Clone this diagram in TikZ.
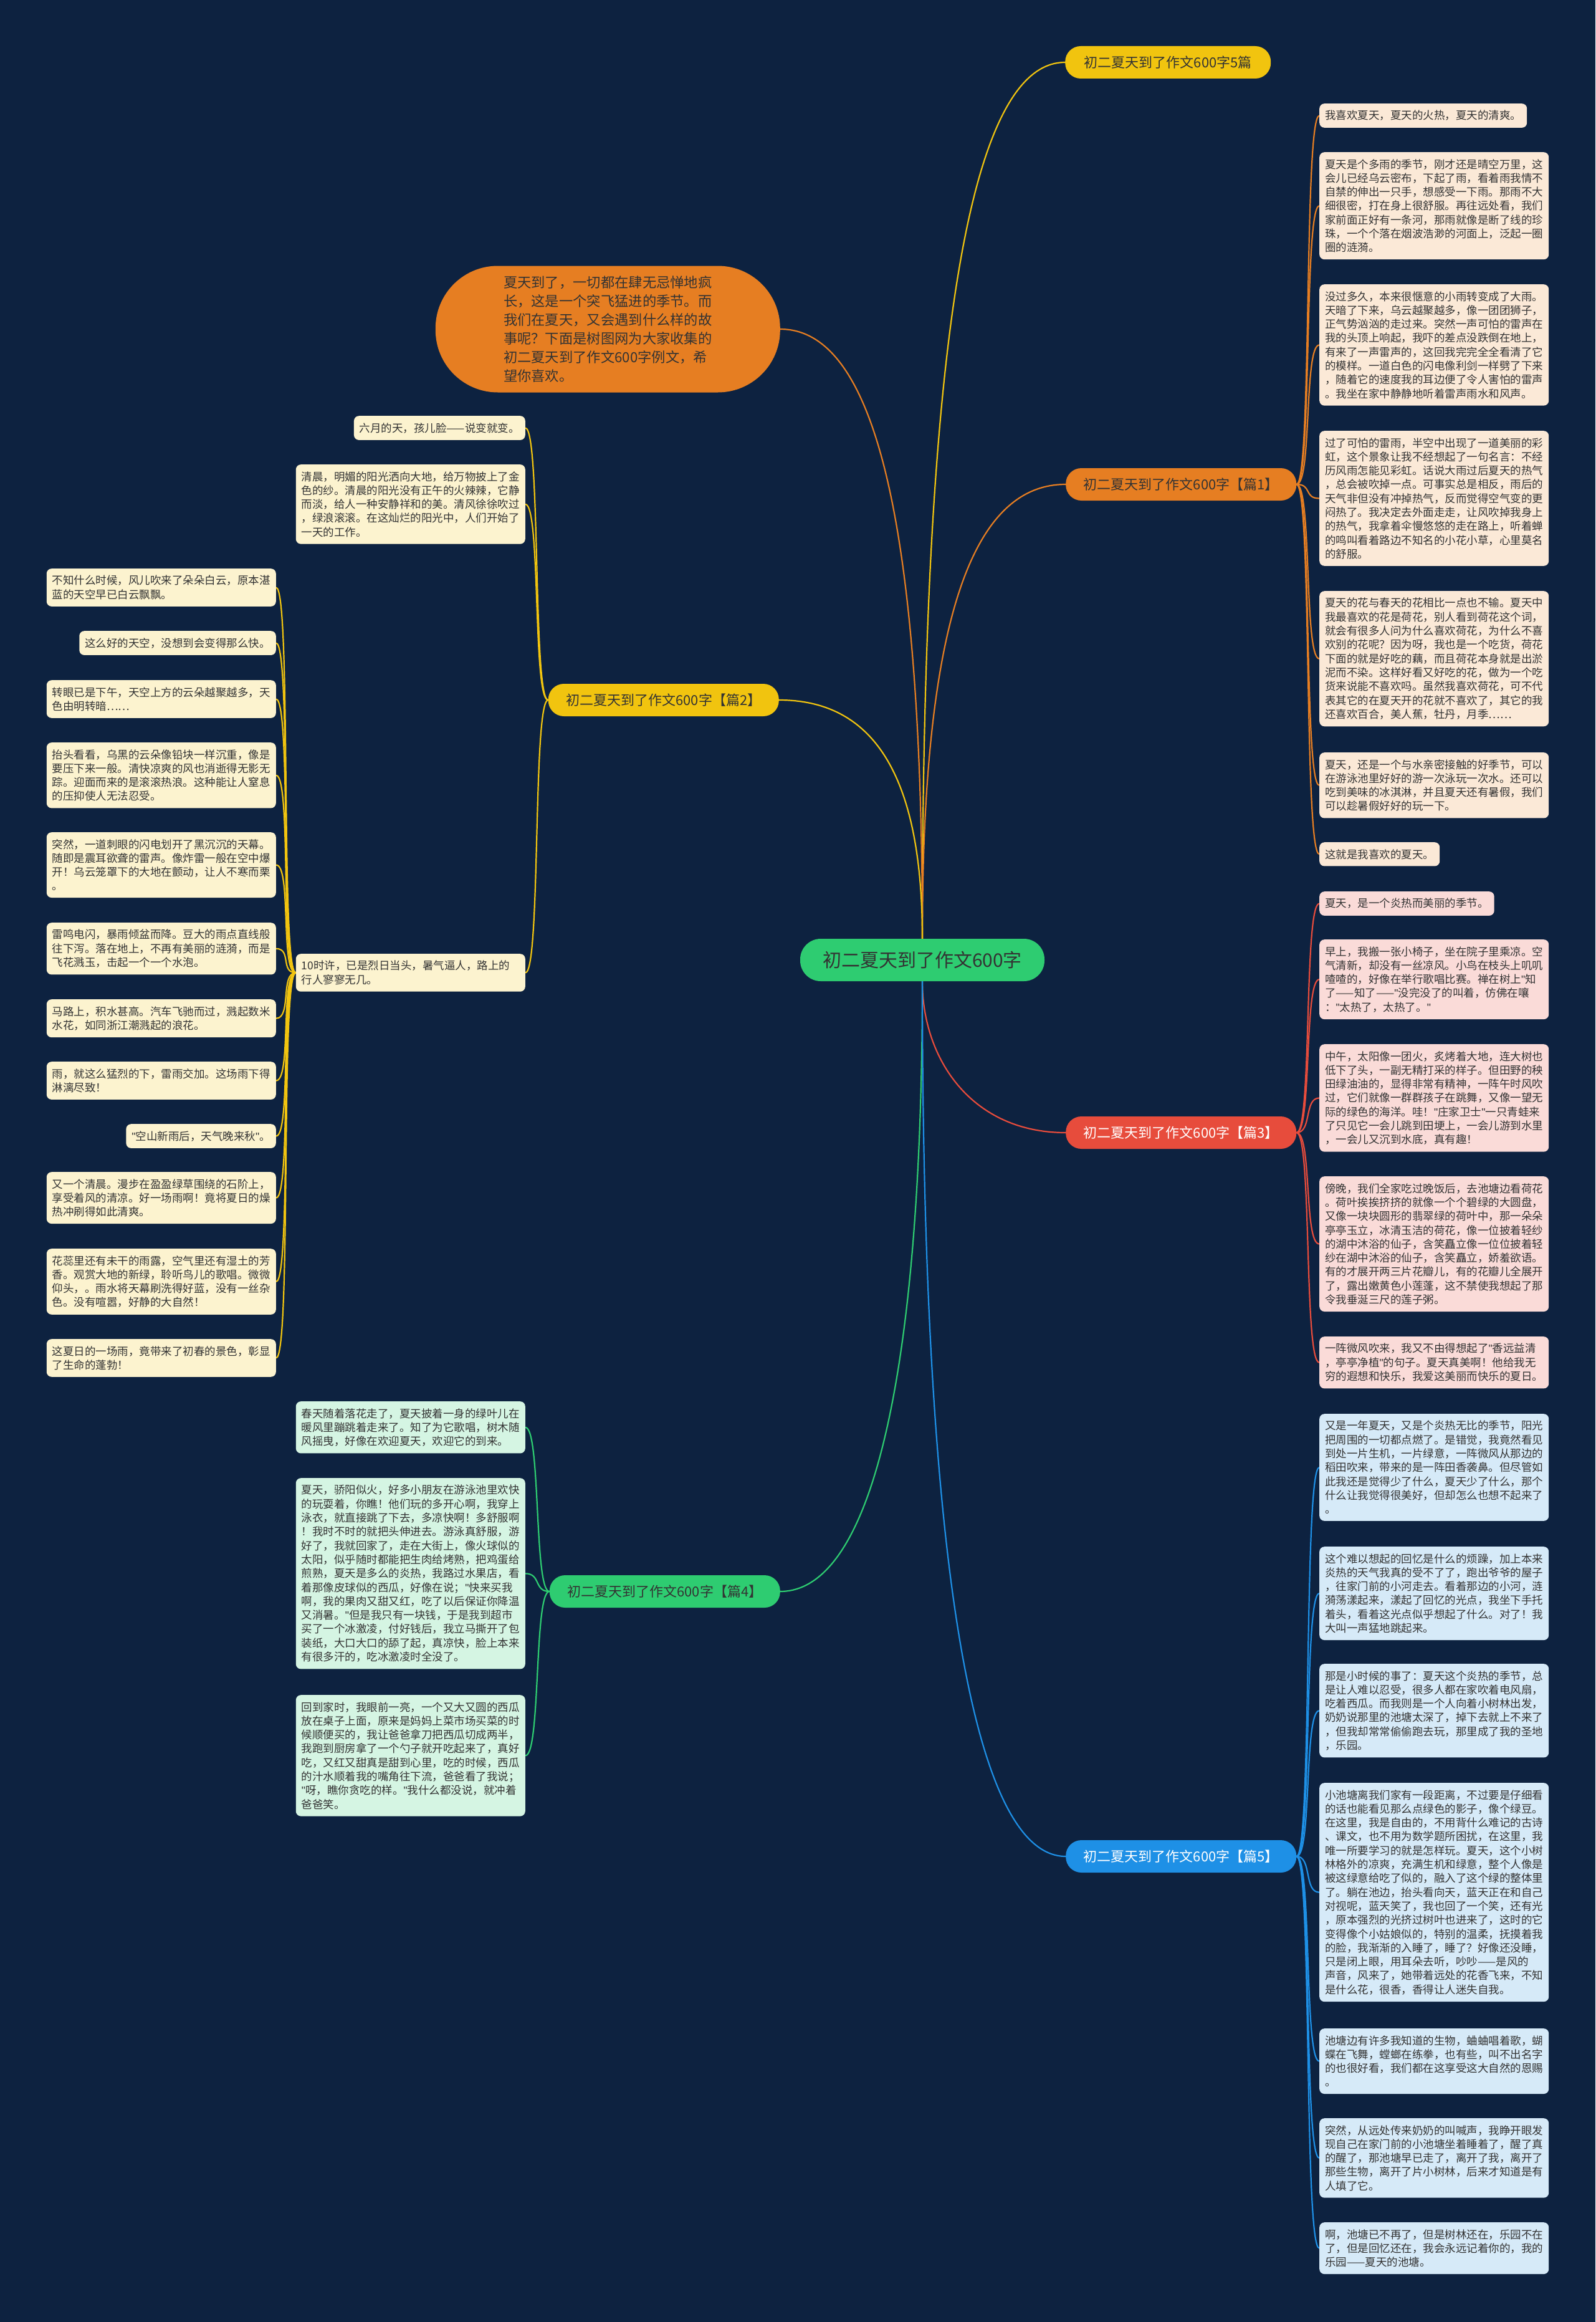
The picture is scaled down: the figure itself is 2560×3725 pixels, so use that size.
\documentclass[tikz,border=0pt]{standalone}
\usepackage{fontspec}
\setmainfont{Noto Sans CJK SC}
\newfontfamily\quotefont{Liberation Sans}
\newcommand\dq{{\quotefont"}}
\usepackage{xcolor}
\usepackage{tikz}
\usetikzlibrary{backgrounds}

\definecolor{navy}{HTML}{0D2240}
\definecolor{tyellow}{HTML}{F1C40F}
\definecolor{torange}{HTML}{E67E22}
\definecolor{tred}{HTML}{E74C3C}
\definecolor{tgreen}{HTML}{2ECC71}
\definecolor{tblue}{HTML}{1E90E6}
\definecolor{inkgray}{HTML}{333333}
\definecolor{peachbg}{HTML}{FBE9D7}
\definecolor{rosebg}{HTML}{FADBD8}
\definecolor{creambg}{HTML}{FCF3CF}
\definecolor{mintbg}{HTML}{D5F5E3}
\definecolor{skybg}{HTML}{D6EAF8}

\begin{document}
\begin{tikzpicture}[x=1pt, y=-1pt,
  leaf/.style={rounded corners=8pt, align=left, inner xsep=9pt, inner ysep=11pt,
    text=inkgray, font={\fontsize{17.5}{22.3}\selectfont}},
  wide/.style={text width=350pt},
  branch/.style={rectangle, rounded corners=25pt, minimum height=52pt, minimum width=370pt,
    inner xsep=10pt, font={\fontsize{22}{26}\selectfont}},
  link/.style={line width=2.2pt}]
  \useasboundingbox (0,0) rectangle (2560,3725);

  % Root and intro
  \node[rectangle, rounded corners=33pt, fill=tgreen, text=inkgray, minimum width=392pt, minimum height=68pt,
    font={\fontsize{30}{34}\selectfont}] (root) at (1480,1540) {初二夏天到了作文600字};
  \node[rectangle, rounded corners=100pt, fill=torange, text=inkgray, minimum width=553pt, minimum height=203pt,
    align=left, font={\fontsize{22.3}{30}\selectfont}, anchor=east] (intro) at (1252,528)
    {夏天到了，一切都在肆无忌惮地疯\\长，这是一个突飞猛进的季节。而\\我们在夏天，又会遇到什么样的故\\事呢？下面是树图网为大家收集的\\初二夏天到了作文600字例文，希\\望你喜欢。};

  % Branches
  \node[branch, fill=tyellow, text=inkgray, minimum width=330pt, anchor=west] (b0) at (1709,100) {初二夏天到了作文600字5篇};
  \node[branch, fill=torange, text=inkgray, anchor=west] (b1) at (1710,777) {初二夏天到了作文600字【篇1】};
  \node[branch, fill=tyellow, text=inkgray, anchor=east] (b2) at (1250,1123) {初二夏天到了作文600字【篇2】};
  \node[branch, fill=tred, text=white, anchor=west] (b3) at (1710,1817) {初二夏天到了作文600字【篇3】};
  \node[branch, fill=tgreen, text=inkgray, anchor=east] (b4) at (1252,2553) {初二夏天到了作文600字【篇4】};
  \node[branch, fill=tblue, text=white, anchor=west] (b5) at (1710,2978) {初二夏天到了作文600字【篇5】};

  % Part 1
  \node[leaf, fill=peachbg, anchor=north west] (p1a) at (2117,166) {我喜欢夏天，夏天的火热，夏天的清爽。};
  \node[leaf, wide, fill=peachbg, anchor=north west] (p1b) at (2117,244)
    {夏天是个多雨的季节，刚才还是晴空万里，这\\会儿已经乌云密布，下起了雨，看着雨我情不\\自禁的伸出一只手，想感受一下雨。那雨不大\\细很密，打在身上很舒服。再往远处看，我们\\家前面正好有一条河，那雨就像是断了线的珍\\珠，一个个落在烟波浩渺的河面上，泛起一圈\\圈的涟漪。};
  \node[leaf, wide, fill=peachbg, anchor=north west] (p1c) at (2117,456)
    {没过多久，本来很惬意的小雨转变成了大雨。\\天暗了下来，乌云越聚越多，像一团团狮子，\\正气势汹汹的走过来。突然一声可怕的雷声在\\我的头顶上响起，我吓的差点没跌倒在地上，\\有来了一声雷声的，这回我完完全全看清了它\\的模样。一道白色的闪电像利剑一样劈了下来\\，随着它的速度我的耳边便了令人害怕的雷声\\。我坐在家中静静地听着雷声雨水和风声。};
  \node[leaf, wide, fill=peachbg, anchor=north west] (p1d) at (2117,691)
    {过了可怕的雷雨，半空中出现了一道美丽的彩\\虹，这个景象让我不经想起了一句名言：不经\\历风雨怎能见彩虹。话说大雨过后夏天的热气\\，总会被吹掉一点。可事实总是相反，雨后的\\天气非但没有冲掉热气，反而觉得空气变的更\\闷热了。我决定去外面走走，让风吹掉我身上\\的热气，我拿着伞慢悠悠的走在路上，听着蝉\\的鸣叫看着路边不知名的小花小草，心里莫名\\的舒服。};
  \node[leaf, wide, fill=peachbg, anchor=north west] (p1e) at (2117,948)
    {夏天的花与春天的花相比一点也不输。夏天中\\我最喜欢的花是荷花，别人看到荷花这个词，\\就会有很多人问为什么喜欢荷花，为什么不喜\\欢别的花呢？因为呀，我也是一个吃货，荷花\\下面的就是好吃的藕，而且荷花本身就是出淤\\泥而不染。这样好看又好吃的花，做为一个吃\\货来说能不喜欢吗。虽然我喜欢荷花，可不代\\表其它的在夏天开的花就不喜欢了，其它的我\\还喜欢百合，美人蕉，牡丹，月季……};
  \node[leaf, wide, fill=peachbg, anchor=north west] (p1f) at (2117,1207)
    {夏天，还是一个与水亲密接触的好季节，可以\\在游泳池里好好的游一次泳玩一次水。还可以\\吃到美味的冰淇淋，并且夏天还有暑假，我们\\可以趁暑假好好的玩一下。};
  \node[leaf, fill=peachbg, anchor=north west] (p1g) at (2117,1351) {这就是我喜欢的夏天。};

  % Part 2
  \node[leaf, fill=creambg, anchor=north east] (p2a) at (843,667) {六月的天，孩儿脸——说变就变。};
  \node[leaf, wide, fill=creambg, anchor=north east] (p2b) at (843,745)
    {清晨，明媚的阳光洒向大地，给万物披上了金\\色的纱。清晨的阳光没有正午的火辣辣，它静\\而淡，给人一种安静祥和的美。清风徐徐吹过\\，绿浪滚滚。在这灿烂的阳光中，人们开始了\\一天的工作。};
  \node[leaf, wide, fill=creambg, anchor=north east] (p2c) at (843,1530)
    {10时许，已是烈日当头，暑气逼人，路上的\\行人寥寥无几。};
  \node[leaf, wide, fill=creambg, anchor=north east] (q1) at (443,912)
    {不知什么时候，风儿吹来了朵朵白云，原本湛\\蓝的天空早已白云飘飘。};
  \node[leaf, fill=creambg, anchor=north east] (q2) at (443,1012) {这么好的天空，没想到会变得那么快。};
  \node[leaf, wide, fill=creambg, anchor=north east] (q3) at (443,1091)
    {转眼已是下午，天空上方的云朵越聚越多，天\\色由明转暗……};
  \node[leaf, wide, fill=creambg, anchor=north east] (q4) at (443,1191)
    {抬头看看，乌黑的云朵像铅块一样沉重，像是\\要压下来一般。清快凉爽的风也消逝得无影无\\踪。迎面而来的是滚滚热浪。这种能让人窒息\\的压抑使人无法忍受。};
  \node[leaf, wide, fill=creambg, anchor=north east] (q5) at (443,1335)
    {突然，一道刺眼的闪电划开了黑沉沉的天幕。\\随即是震耳欲聋的雷声。像炸雷一般在空中爆\\开！乌云笼罩下的大地在颤动，让人不寒而栗\\。};
  \node[leaf, wide, fill=creambg, anchor=north east] (q6) at (443,1480)
    {雷鸣电闪，暴雨倾盆而降。豆大的雨点直线般\\往下泻。落在地上，不再有美丽的涟漪，而是\\飞花溅玉，击起一个一个水泡。};
  \node[leaf, wide, fill=creambg, anchor=north east] (q7) at (443,1603)
    {马路上，积水甚高。汽车飞驰而过，溅起数米\\水花，如同浙江潮溅起的浪花。};
  \node[leaf, wide, fill=creambg, anchor=north east] (q8) at (443,1703)
    {雨，就这么猛烈的下，雷雨交加。这场雨下得\\淋漓尽致！};
  \node[leaf, fill=creambg, anchor=north east] (q9) at (443,1803) {\dq 空山新雨后，天气晚来秋\dq 。};
  \node[leaf, wide, fill=creambg, anchor=north east] (q10) at (443,1880)
    {又一个清晨。漫步在盈盈绿草围绕的石阶上，\\享受着风的清凉。好一场雨啊！竟将夏日的燥\\热冲刷得如此清爽。};
  \node[leaf, wide, fill=creambg, anchor=north east] (q11) at (443,2003)
    {花蕊里还有未干的雨露，空气里还有湿土的芳\\香。观赏大地的新绿，聆听鸟儿的歌唱。微微\\仰头，。雨水将天幕刷洗得好蓝，没有一丝杂\\色。没有喧嚣，好静的大自然！};
  \node[leaf, wide, fill=creambg, anchor=north east] (q12) at (443,2148)
    {这夏日的一场雨，竟带来了初春的景色，彰显\\了生命的蓬勃！};

  % Part 3
  \node[leaf, fill=rosebg, anchor=north west] (p3a) at (2117,1430) {夏天，是一个炎热而美丽的季节。};
  \node[leaf, wide, fill=rosebg, anchor=north west] (p3b) at (2117,1507)
    {早上，我搬一张小椅子，坐在院子里乘凉。空\\气清新，却没有一丝凉风。小鸟在枝头上叽叽\\喳喳的，好像在举行歌唱比赛。禅在树上\dq 知\\了——知了——\dq 没完没了的叫着，仿佛在嚷\\：\dq 太热了，太热了。\dq};
  \node[leaf, wide, fill=rosebg, anchor=north west] (p3c) at (2117,1675)
    {中午，太阳像一团火，炙烤着大地，连大树也\\低下了头，一副无精打采的样子。但田野的秧\\田绿油油的，显得非常有精神，一阵午时风吹\\过，它们就像一群群孩子在跳舞，又像一望无\\际的绿色的海洋。哇！\dq 庄家卫士\dq 一只青蛙来\\了只见它一会儿跳到田埂上，一会儿游到水里\\，一会儿又沉到水底，真有趣！};
  \node[leaf, wide, fill=rosebg, anchor=north west] (p3d) at (2117,1887)
    {傍晚，我们全家吃过晚饭后，去池塘边看荷花\\。荷叶挨挨挤挤的就像一个个碧绿的大圆盘，\\又像一块块圆形的翡翠绿的荷叶中，那一朵朵\\亭亭玉立，冰清玉洁的荷花，像一位披着轻纱\\的湖中沐浴的仙子，含笑矗立像一位位披着轻\\纱在湖中沐浴的仙子，含笑矗立，娇羞欲语。\\有的才展开两三片花瓣儿，有的花瓣儿全展开\\了，露出嫩黄色小莲蓬，这不禁使我想起了那\\令我垂涎三尺的莲子粥。};
  \node[leaf, wide, fill=rosebg, anchor=north west] (p3e) at (2117,2144)
    {一阵微风吹来，我又不由得想起了\dq 香远益清\\，亭亭净植\dq 的句子。夏天真美啊！他给我无\\穷的遐想和快乐，我爱这美丽而快乐的夏日。};

  % Part 4
  \node[leaf, wide, fill=mintbg, anchor=north east] (p4a) at (843,2248)
    {春天随着落花走了，夏天披着一身的绿叶儿在\\暖风里蹦跳着走来了。知了为它歌唱，树木随\\风摇曳，好像在欢迎夏天，欢迎它的到来。};
  \node[leaf, wide, fill=mintbg, anchor=north east] (p4b) at (843,2371)
    {夏天，骄阳似火，好多小朋友在游泳池里欢快\\的玩耍着，你瞧！他们玩的多开心啊，我穿上\\泳衣，就直接跳了下去，多凉快啊！多舒服啊\\！我时不时的就把头伸进去。游泳真舒服，游\\好了，我就回家了，走在大街上，像火球似的\\太阳，似乎随时都能把生肉给烤熟，把鸡蛋给\\煎熟，夏天是多么的炎热，我路过水果店，看\\着那像皮球似的西瓜，好像在说；\dq 快来买我\\啊，我的果肉又甜又红，吃了以后保证你降温\\又消暑。\dq 但是我只有一块钱，于是我到超市\\买了一个冰激凌，付好钱后，我立马撕开了包\\装纸，大口大口的舔了起，真凉快，脸上本来\\有很多汗的，吃冰激凌时全没了。};
  \node[leaf, wide, fill=mintbg, anchor=north east] (p4c) at (843,2719)
    {回到家时，我眼前一亮，一个又大又圆的西瓜\\放在桌子上面，原来是妈妈上菜市场买菜的时\\候顺便买的，我让爸爸拿刀把西瓜切成两半，\\我跑到厨房拿了一个勺子就开吃起来了，真好\\吃，又红又甜真是甜到心里，吃的时候，西瓜\\的汁水顺着我的嘴角往下流，爸爸看了我说；\\\dq 呀，瞧你贪吃的样。\dq 我什么都没说，就冲着\\爸爸笑。};

  % Part 5
  \node[leaf, wide, fill=skybg, anchor=north west] (p5a) at (2117,2268)
    {又是一年夏天，又是个炎热无比的季节，阳光\\把周围的一切都点燃了。是错觉，我竟然看见\\到处一片生机，一片绿意，一阵微风从那边的\\稻田吹来，带来的是一阵田香袭鼻。但尽管如\\此我还是觉得少了什么，夏天少了什么，那个\\什么让我觉得很美好，但却怎么也想不起来了\\。};
  \node[leaf, wide, fill=skybg, anchor=north west] (p5b) at (2117,2481)
    {这个难以想起的回忆是什么的烦躁，加上本来\\炎热的天气我真的受不了了，跑出爷爷的屋子\\，往家门前的小河走去。看着那边的小河，涟\\漪荡漾起来，漾起了回忆的光点，我坐下手托\\着头，看着这光点似乎想起了什么。对了！我\\大叫一声猛地跳起来。};
  \node[leaf, wide, fill=skybg, anchor=north west] (p5c) at (2117,2669)
    {那是小时候的事了：夏天这个炎热的季节，总\\是让人难以忍受，很多人都在家吹着电风扇，\\吃着西瓜。而我则是一个人向着小树林出发，\\奶奶说那里的池塘太深了，掉下去就上不来了\\，但我却常常偷偷跑去玩，那里成了我的圣地\\，乐园。};
  \node[leaf, wide, fill=skybg, anchor=north west] (p5d) at (2117,2860)
    {小池塘离我们家有一段距离，不过要是仔细看\\的话也能看见那么点绿色的影子，像个绿豆。\\在这里，我是自由的，不用背什么难记的古诗\\、课文，也不用为数学题所困扰，在这里，我\\唯一所要学习的就是怎样玩。夏天，这个小树\\林格外的凉爽，充满生机和绿意，整个人像是\\被这绿意给吃了似的，融入了这个绿的整体里\\了。躺在池边，抬头看向天，蓝天正在和自己\\对视呢，蓝天笑了，我也回了一个笑，还有光\\，原本强烈的光挤过树叶也进来了，这时的它\\变得像个小姑娘似的，特别的温柔，抚摸着我\\的脸，我渐渐的入睡了，睡了？好像还没睡，\\只是闭上眼，用耳朵去听，吵吵——是风的\\声音，风来了，她带着远处的花香飞来，不知\\是什么花，很香，香得让人迷失自我。};
  \node[leaf, wide, fill=skybg, anchor=north west] (p5e) at (2117,3254)
    {池塘边有许多我知道的生物，蛐蛐唱着歌，蝴\\蝶在飞舞，螳螂在练拳，也有些，叫不出名字\\的也很好看，我们都在这享受这大自然的恩赐\\。};
  \node[leaf, wide, fill=skybg, anchor=north west] (p5f) at (2117,3398)
    {突然，从远处传来奶奶的叫喊声，我睁开眼发\\现自己在家门前的小池塘坐着睡着了，醒了真\\的醒了，那池塘早已走了，离开了我，离开了\\那些生物，离开了片小树林，后来才知道是有\\人填了它。};
  \node[leaf, wide, fill=skybg, anchor=north west] (p5g) at (2117,3565)
    {啊，池塘已不再了，但是树林还在，乐园不在\\了，但是回忆还在，我会永远记着你的，我的\\乐园——夏天的池塘。};

  \begin{pgfonlayer}{background}
    \fill[navy] (0,0) rectangle (2560,3725);

    % Root to branches
    \draw[link, tyellow] (root.north) .. controls (1480,520) and (1560,100) .. (b0.west);
    \draw[link, torange] (root.north) .. controls (1480,996) and (1560,777) .. (b1.west);
    \draw[link, torange] (root.north) .. controls (1480,821) and (1400,528) .. (intro.east);
    \draw[link, tyellow] (root.north) .. controls (1480,1238) and (1398,1123) .. (b2.east);
    \draw[link, tred] (root.south) .. controls (1480,1700) and (1560,1817) .. (b3.west);
    \draw[link, tgreen] (root.south) .. controls (1480,2200) and (1400,2553) .. (b4.east);
    \draw[link, tblue] (root.south) .. controls (1480,2500) and (1560,2978) .. (b5.west);

    % Part 1 leaves
    \draw[link, torange] (b1.east) .. controls +(25,0) and +(-25,0) .. (p1a.west);
    \draw[link, torange] (b1.east) .. controls +(25,0) and +(-25,0) .. (p1b.west);
    \draw[link, torange] (b1.east) .. controls +(25,0) and +(-25,0) .. (p1c.west);
    \draw[link, torange] (b1.east) .. controls +(25,0) and +(-25,0) .. (p1d.west);
    \draw[link, torange] (b1.east) .. controls +(25,0) and +(-25,0) .. (p1e.west);
    \draw[link, torange] (b1.east) .. controls +(25,0) and +(-25,0) .. (p1f.west);
    \draw[link, torange] (b1.east) .. controls +(25,0) and +(-25,0) .. (p1g.west);

    % Part 2 leaves
    \draw[link, tyellow] (b2.west) .. controls +(-25,0) and +(25,0) .. (p2a.east);
    \draw[link, tyellow] (b2.west) .. controls +(-25,0) and +(25,0) .. (p2b.east);
    \draw[link, tyellow] (b2.west) .. controls +(-25,0) and +(25,0) .. (p2c.east);
    \draw[link, tyellow] (p2c.west) .. controls +(-25,0) and +(25,0) .. (q1.east);
    \draw[link, tyellow] (p2c.west) .. controls +(-25,0) and +(25,0) .. (q2.east);
    \draw[link, tyellow] (p2c.west) .. controls +(-25,0) and +(25,0) .. (q3.east);
    \draw[link, tyellow] (p2c.west) .. controls +(-25,0) and +(25,0) .. (q4.east);
    \draw[link, tyellow] (p2c.west) .. controls +(-25,0) and +(25,0) .. (q5.east);
    \draw[link, tyellow] (p2c.west) .. controls +(-25,0) and +(25,0) .. (q6.east);
    \draw[link, tyellow] (p2c.west) .. controls +(-25,0) and +(25,0) .. (q7.east);
    \draw[link, tyellow] (p2c.west) .. controls +(-25,0) and +(25,0) .. (q8.east);
    \draw[link, tyellow] (p2c.west) .. controls +(-25,0) and +(25,0) .. (q9.east);
    \draw[link, tyellow] (p2c.west) .. controls +(-25,0) and +(25,0) .. (q10.east);
    \draw[link, tyellow] (p2c.west) .. controls +(-25,0) and +(25,0) .. (q11.east);
    \draw[link, tyellow] (p2c.west) .. controls +(-25,0) and +(25,0) .. (q12.east);

    % Part 3 leaves
    \draw[link, tred] (b3.east) .. controls +(25,0) and +(-25,0) .. (p3a.west);
    \draw[link, tred] (b3.east) .. controls +(25,0) and +(-25,0) .. (p3b.west);
    \draw[link, tred] (b3.east) .. controls +(25,0) and +(-25,0) .. (p3c.west);
    \draw[link, tred] (b3.east) .. controls +(25,0) and +(-25,0) .. (p3d.west);
    \draw[link, tred] (b3.east) .. controls +(25,0) and +(-25,0) .. (p3e.west);

    % Part 4 leaves
    \draw[link, tgreen] (b4.west) .. controls +(-25,0) and +(25,0) .. (p4a.east);
    \draw[link, tgreen] (b4.west) .. controls +(-25,0) and +(25,0) .. (p4b.east);
    \draw[link, tgreen] (b4.west) .. controls +(-25,0) and +(25,0) .. (p4c.east);

    % Part 5 leaves
    \draw[link, tblue] (b5.east) .. controls +(25,0) and +(-25,0) .. (p5a.west);
    \draw[link, tblue] (b5.east) .. controls +(25,0) and +(-25,0) .. (p5b.west);
    \draw[link, tblue] (b5.east) .. controls +(25,0) and +(-25,0) .. (p5c.west);
    \draw[link, tblue] (b5.east) .. controls +(25,0) and +(-25,0) .. (p5d.west);
    \draw[link, tblue] (b5.east) .. controls +(25,0) and +(-25,0) .. (p5e.west);
    \draw[link, tblue] (b5.east) .. controls +(25,0) and +(-25,0) .. (p5f.west);
    \draw[link, tblue] (b5.east) .. controls +(25,0) and +(-25,0) .. (p5g.west);
  \end{pgfonlayer}
\end{tikzpicture}
\end{document}
